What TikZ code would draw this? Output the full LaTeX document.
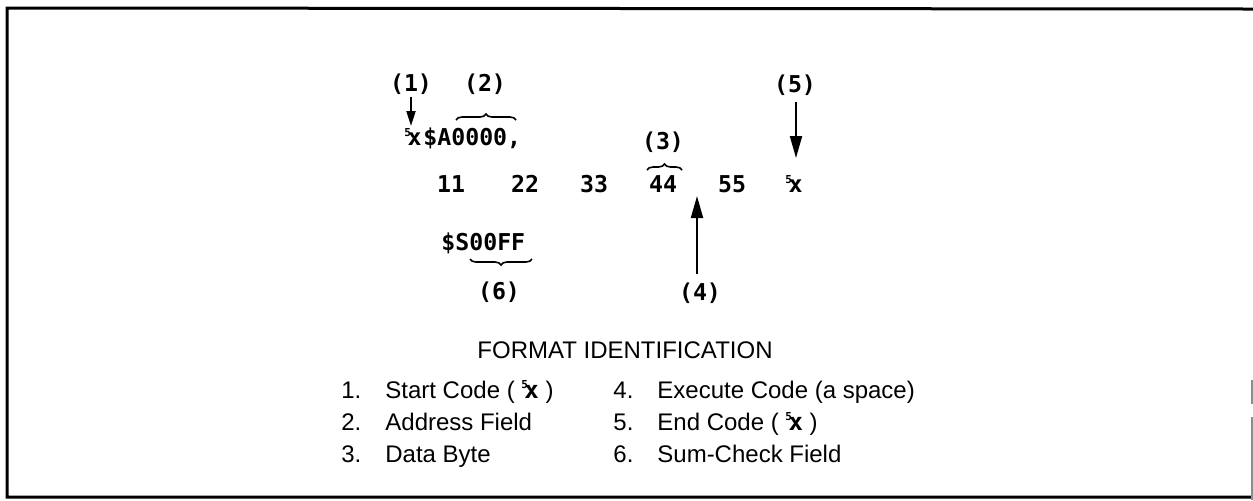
\documentclass[tikz,border=0pt]{standalone}
\usepackage{fontspec}
\setmainfont{Liberation Sans}
\newfontfamily\codefont{DejaVu Sans Mono}
\usetikzlibrary{arrows.meta,decorations.pathreplacing}
\newcommand\startcode{\mbox{\raisebox{0.7ex}{\fontsize{5.5}{6}\selectfont 5}\kern-0.15em x}}
\begin{document}
\begin{tikzpicture}[x=0.5pt,y=-0.5pt,
  code/.style={font=\codefont\bfseries\fontsize{11.6}{13}\selectfont, inner sep=0pt},
  txt/.style={font=\fontsize{12}{14}\selectfont, inner sep=0pt, anchor=base west},
  arr/.style={line width=1pt, -{Triangle[length=11pt,width=6pt]}},
  arrsmall/.style={line width=1pt, -{Triangle[length=7.5pt,width=4.5pt]}},
  br/.style={decorate, decoration={brace, amplitude=3pt}, line width=0.8pt},
  frame/.style={line width=1.5pt}]
\useasboundingbox (0,0) rectangle (1253,500);
% frame
\draw[frame] (1253,9) -- (7,8) -- (7,497) -- (1253,497);
\draw[black!45, line width=0.8pt] (1252,380) -- (1252,404);
\draw[black!45, line width=0.8pt] (1252,417) -- (1252,500);
% labels
\node[code] (l1) at (411,84) {(1)};
\node[code] (l2) at (485,84) {(2)};
\node[code] (l5) at (795,85) {(5)};
\node[code] (l3) at (663,142) {(3)};
\node[code] (l6) at (499,292) {(6)};
\node[code] (l4) at (700,293) {(4)};
% code line 1
\node[code, anchor=base west] (sxA) at (404,145) {\startcode};
\node[code, anchor=base west] (addr) at (423,145) {\$A0000,};
% data row
\node[code, anchor=base] (d1) at (451,192) {11};
\node[code, anchor=base] (d2) at (525,192) {22};
\node[code, anchor=base] (d3) at (594,192) {33};
\node[code, anchor=base] (d4) at (663,192) {44};
\node[code, anchor=base] (d5) at (732,192) {55};
\node[code, anchor=base] (sx2) at (794,192) {\startcode};
% sum check
\node[code, anchor=base west] (sum) at (441,250) {\$S00FF};
% braces
\coordinate (b2a) at (456,120); \coordinate (b2b) at (516,120);
\coordinate (b3a) at (647,170); \coordinate (b3b) at (682,170);
\coordinate (b6a) at (532,259); \coordinate (b6b) at (470,259);
\draw[br] (b2a) -- (b2b);
\draw[br] (b3a) -- (b3b);
\draw[br] (b6a) -- (b6b);
% arrows
\coordinate (c1) at (411,126);
\coordinate (c5) at (796,158);
\coordinate (c4) at (697,196);
\draw[arrsmall] (l1.south -| c1) ++(0,2) -- (c1);
\draw[arr] (l5.south -| c5) ++(0,6) -- (c5);
\draw[arr] (l4.north -| c4) ++(0,-8) -- (c4);
% legend
\node[txt, anchor=center] (title) at (625,350) {FORMAT IDENTIFICATION};
\node[txt] (n1) at (341,398) {1.};
\node[txt] (t1) at (385,398) {Start Code ( {\codefont\bfseries\startcode} )};
\node[txt] (n2) at (341,430) {2.};
\node[txt] (t2) at (385,430) {Address Field};
\node[txt] (n3) at (341,462) {3.};
\node[txt] (t3) at (385,462) {Data Byte};
\node[txt] (n4) at (613,398) {4.};
\node[txt] (t4) at (657,398) {Execute Code (a space)};
\node[txt] (n5) at (613,430) {5.};
\node[txt] (t5) at (657,430) {End Code ( {\codefont\bfseries\startcode} )};
\node[txt] (n6) at (613,462) {6.};
\node[txt] (t6) at (657,462) {Sum-Check Field};
\end{tikzpicture}
\end{document}
